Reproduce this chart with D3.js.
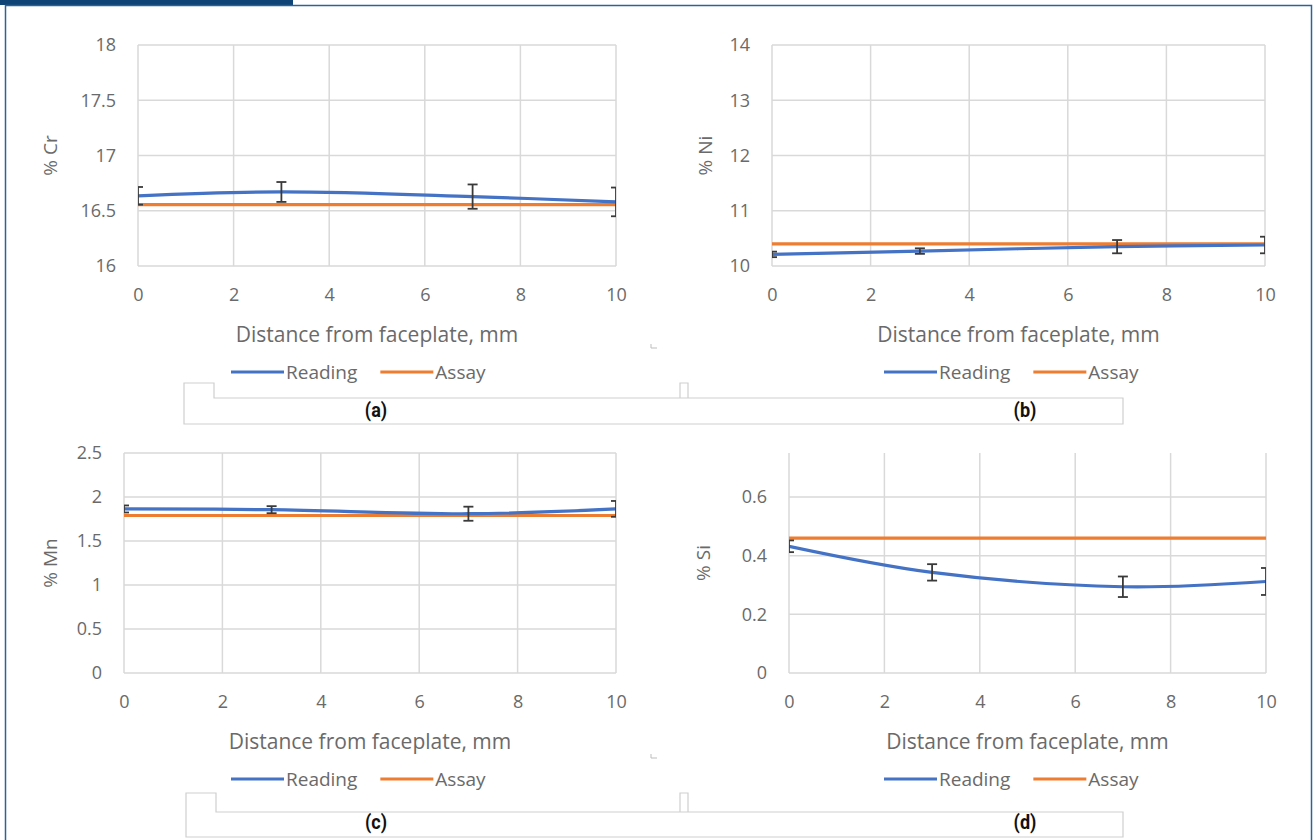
<!DOCTYPE html>
<html>
<head>
<meta charset="utf-8">
<script src="https://cdn.jsdelivr.net/npm/d3@7"></script>
<style>
  html, body { margin: 0; padding: 0; background: #ffffff; }
  svg { display: block; }
</style>
</head>
<body>
<svg id="chart" width="1314" height="840"></svg>
<script>
// ---------------- DATA ----------------
const distances = [0, 3, 7, 10];
const xTicks = [0, 2, 4, 6, 8, 10];
const seriesNames = ["Reading", "Assay"];
const panelLetters = ["(a)", "(b)", "(c)", "(d)"];
const xTitle = "Distance from faceplate, mm";

const crReading = [16.635, 16.67, 16.628, 16.58];
const crError   = [0.08, 0.09, 0.11, 0.13];
const crAssay   = [16.555, 16.555, 16.555, 16.555];
const crTicks   = [16, 16.5, 17, 17.5, 18];

const niReading = [10.21, 10.27, 10.35, 10.38];
const niError   = [0.05, 0.05, 0.12, 0.15];
const niAssay   = [10.40, 10.40, 10.40, 10.40];
const niTicks   = [10, 11, 12, 13, 14];

const mnReading = [1.864, 1.856, 1.81, 1.865];
const mnError   = [0.04, 0.04, 0.08, 0.09];
const mnAssay   = [1.79, 1.79, 1.79, 1.79];
const mnTicks   = [0, 0.5, 1, 1.5, 2, 2.5];

const siReading = [0.432, 0.343, 0.294, 0.312];
const siError   = [0.02, 0.028, 0.035, 0.046];
const siAssay   = [0.46, 0.46, 0.46, 0.46];
const siTicks   = [0, 0.2, 0.4, 0.6];

// ---------------- LAYOUT ----------------
const svg = d3.select("#chart");
const BLUE = "#4472C4", ORANGE = "#ED7D31";
const TXT = "#6a6a6a", GRID = "#d9d9d9";
const FONT = "'Open Sans', 'Noto Sans', sans-serif";

svg.append("rect").attr("width", 1314).attr("height", 840).attr("fill", "#fff");

// page frame
svg.append("rect").attr("x", 0).attr("y", 0).attr("width", 293).attr("height", 5).attr("fill", "#0e4476");
svg.append("path")
  .attr("d", "M5.5,845 V5.5 H1311.5 V845")
  .attr("fill", "none").attr("stroke", "#2f6193").attr("stroke-width", 1.5);

const panels = [
  { y: crReading, err: crError, assay: crAssay, ticks: crTicks, dom: [16, 18], label: "% Cr",
    x0: 138, x1: 616, y0: 45, y1: 266, titleX: 50, legendX: 231 },
  { y: niReading, err: niError, assay: niAssay, ticks: niTicks, dom: [10, 14], label: "% Ni",
    x0: 772, x1: 1265, y0: 45, y1: 266, titleX: 705, legendX: 884 },
  { y: mnReading, err: mnError, assay: mnAssay, ticks: mnTicks, dom: [0, 2.5], label: "% Mn",
    x0: 124, x1: 616, y0: 453, y1: 673, titleX: 50, legendX: 231 },
  { y: siReading, err: siError, assay: siAssay, ticks: siTicks, dom: [0, 0.75], label: "% Si",
    x0: 789, x1: 1266, y0: 453, y1: 673, titleX: 703, legendX: 884 }
];

panels.forEach((p, i) => {
  const x = d3.scaleLinear().domain([0, 10]).range([p.x0, p.x1]);
  const y = d3.scaleLinear().domain(p.dom).range([p.y1, p.y0]);
  const g = svg.append("g");

  // gridlines
  g.selectAll(".hg").data(p.ticks).join("line")
    .attr("x1", p.x0).attr("x2", p.x1)
    .attr("y1", d => y(d)).attr("y2", d => y(d))
    .attr("stroke", GRID).attr("stroke-width", 1.5);
  g.selectAll(".vg").data(xTicks).join("line")
    .attr("x1", d => x(d)).attr("x2", d => x(d))
    .attr("y1", p.y0).attr("y2", p.y1)
    .attr("stroke", GRID).attr("stroke-width", 1.5);

  // axes (labels only)
  const ya = d3.axisLeft(y).tickValues(p.ticks).tickSize(0).tickPadding(22).tickFormat(d3.format("~g"));
  const yg = g.append("g").attr("transform", `translate(${p.x0},0)`).call(ya);
  const xa = d3.axisBottom(x).tickValues(xTicks).tickSize(0).tickPadding(22).tickFormat(d3.format("~g"));
  const xg = g.append("g").attr("transform", `translate(0,${p.y1})`).call(xa);
  [yg, xg].forEach(a => {
    a.select(".domain").remove();
    a.selectAll("text").attr("fill", TXT).style("font-family", FONT).style("font-size", "18px");
  });

  // axis titles
  g.append("text")
    .attr("transform", `translate(${p.titleX},${(p.y0 + p.y1) / 2}) rotate(-90)`)
    .attr("text-anchor", "middle").attr("dominant-baseline", "central")
    .attr("fill", TXT).style("font-family", FONT).style("font-size", "19px")
    .text(p.label);
  g.append("text")
    .attr("x", (p.x0 + p.x1) / 2).attr("y", p.y1 + 68)
    .attr("text-anchor", "middle").attr("dominant-baseline", "central")
    .attr("fill", TXT).style("font-family", FONT).style("font-size", "21px")
    .text(xTitle);

  // clip
  const cid = "clip" + i;
  svg.append("clipPath").attr("id", cid).append("rect")
    .attr("x", p.x0).attr("y", p.y0).attr("width", p.x1 - p.x0).attr("height", p.y1 - p.y0);
  const pg = g.append("g").attr("clip-path", `url(#${cid})`);

  const line = d3.line().x((d, k) => x(distances[k])).y(d => y(d)).curve(d3.curveCatmullRom.alpha(0.5));
  pg.append("path").datum(p.assay).attr("d", line)
    .attr("fill", "none").attr("stroke", ORANGE).attr("stroke-width", 3.2);
  pg.append("path").datum(p.y).attr("d", line)
    .attr("fill", "none").attr("stroke", BLUE).attr("stroke-width", 3.2);

  // error bars
  const eb = pg.selectAll(".eb").data(p.y.map((v, k) => ({ v, e: p.err[k], d: distances[k] }))).join("g");
  eb.append("line").attr("x1", d => x(d.d)).attr("x2", d => x(d.d))
    .attr("y1", d => y(d.v - d.e)).attr("y2", d => y(d.v + d.e))
    .attr("stroke", "#3a3a3a").attr("stroke-width", 1.8);
  [-1, 1].forEach(s => {
    eb.append("line").attr("x1", d => x(d.d) - 5).attr("x2", d => x(d.d) + 5)
      .attr("y1", d => y(d.v + s * d.e)).attr("y2", d => y(d.v + s * d.e))
      .attr("stroke", "#3a3a3a").attr("stroke-width", 1.8);
  });

  // legend
  const ly = p.y1 + 106;
  const cols = [BLUE, ORANGE];
  let lx = p.legendX;
  seriesNames.forEach((n, k) => {
    g.append("line").attr("x1", lx).attr("x2", lx + 53).attr("y1", ly).attr("y2", ly)
      .attr("stroke", cols[k]).attr("stroke-width", 3.2);
    const t = g.append("text").attr("x", lx + 55).attr("y", ly).attr("dominant-baseline", "central")
      .attr("fill", TXT).style("font-family", FONT).style("font-size", "19px").text(n);
    lx += 55 + t.node().getComputedTextLength() + 23;
  });
});

// caption boxes
const BOXC = "#cfcfcf";
const boxes = [
  { left: 184, tabR: 214, tabT: 383, top: 398, bot: 424, right: 1123, labY: 410 },
  { left: 186, tabR: 216, tabT: 793, top: 812, bot: 837, right: 1123, labY: 822 }
];
boxes.forEach((b, j) => {
  svg.append("path")
    .attr("d", `M${b.left},${b.bot} V${b.tabT} H${b.tabR} V${b.top} H${b.right} V${b.bot} Z`)
    .attr("fill", "none").attr("stroke", BOXC).attr("stroke-width", 1.2);
  svg.append("path")
    .attr("d", `M680,${b.top} V${b.tabT} H688 V${b.top}`)
    .attr("fill", "none").attr("stroke", BOXC).attr("stroke-width", 1.2);
  [376, 1025].forEach((cx, k) => {
    svg.append("text")
      .attr("transform", `translate(${cx},${b.labY}) scale(0.86,1)`)
      .attr("text-anchor", "middle").attr("dominant-baseline", "central")
      .style("font-family", "'Roboto', 'Liberation Sans', sans-serif")
      .style("font-weight", "bold").style("font-size", "21px").attr("fill", "#111")
      .text(panelLetters[j * 2 + k]);
  });
});

// small stray marks
[348, 758].forEach(yy => {
  svg.append("path").attr("d", `M651,${yy - 4} V${yy} H657`)
    .attr("fill", "none").attr("stroke", "#bdbdbd").attr("stroke-width", 1);
});
</script>
</body>
</html>
